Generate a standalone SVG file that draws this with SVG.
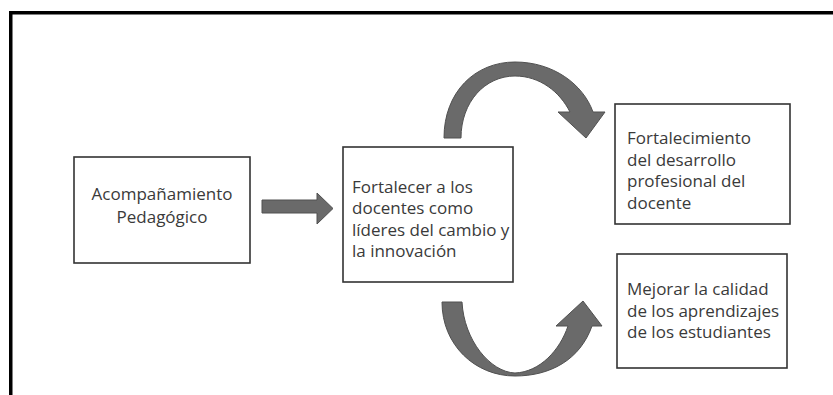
<svg xmlns="http://www.w3.org/2000/svg" width="833" height="395" viewBox="0 0 833 395">
<style>
.box{fill:#fff;stroke:#333;stroke-width:1.6}
.t{font-family:"Open Sans","Noto Sans","Liberation Sans",sans-serif;font-size:17px;fill:#3a3a3a}
.arr{fill:#6a6a6a;stroke:#505050;stroke-width:1}
</style>
<rect x="0" y="0" width="833" height="395" fill="#fff"/>
<rect x="10.75" y="12.75" width="900" height="500" fill="none" stroke="#000" stroke-width="3.5"/>
<g id="connectors">
<path class="arr" d="M262,200 L317,200 L317,193 L333,208.5 L317,224 L317,213 L262,213 Z"/>
<path class="arr" d="M444,138 C444,92 475,62 515,62 C553,62 583,84 593,112 L605,112 L586,138 L558,112 L570,112 C560,92 540,76 515,76 C485,76 461,102 461,138 Z"/>
<path class="arr" d="M442,302 L462,302 C464,340 490,372 515,373 C540,372 560,350 568,326 L556,326 L583,301 L602,326 L592,326 C580,360 550,376 515,376 C475,376 442,345 442,302 Z"/>
</g>
<g id="n1">
<rect class="box" x="74" y="157" width="176" height="106"/>
<text class="t" text-anchor="middle"><tspan x="162" y="200">Acompañamiento</tspan><tspan x="162" y="223">Pedagógico</tspan></text>
</g>
<g id="n2">
<rect class="box" x="343" y="147" width="170" height="135"/>
<text class="t"><tspan x="352" y="192.5">Fortalecer a los</tspan><tspan x="352" y="214">docentes como</tspan><tspan x="352" y="235.5">líderes del cambio y</tspan><tspan x="352" y="257">la innovación</tspan></text>
</g>
<g id="n3">
<rect class="box" x="615" y="104" width="175" height="120"/>
<text class="t"><tspan x="627" y="144">Fortalecimiento</tspan><tspan x="627" y="165.5">del desarrollo</tspan><tspan x="627" y="187">profesional del</tspan><tspan x="627" y="208.5">docente</tspan></text>
</g>
<g id="n4">
<rect class="box" x="617" y="254" width="170" height="114"/>
<text class="t"><tspan x="627" y="295">Mejorar la calidad</tspan><tspan x="627" y="316.5">de los aprendizajes</tspan><tspan x="627" y="338">de los estudiantes</tspan></text>
</g>
</svg>
